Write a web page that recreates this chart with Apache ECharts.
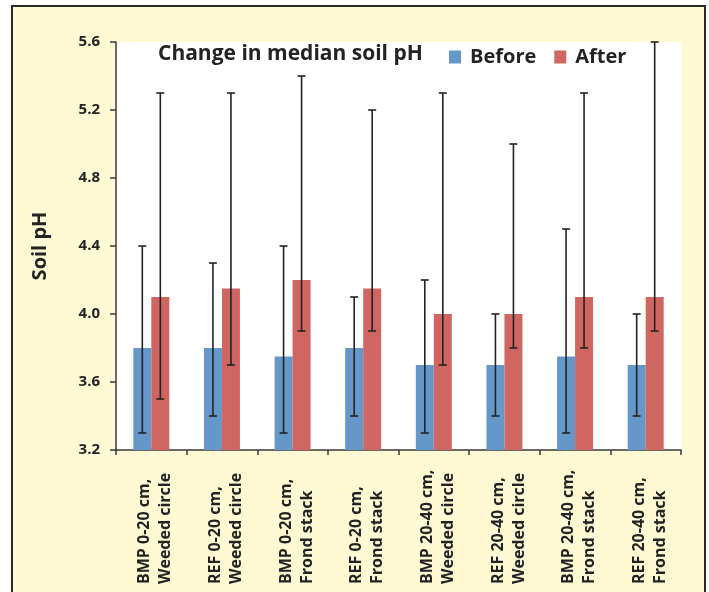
<!DOCTYPE html>
<html>
<head>
<meta charset="utf-8">
<title>Change in median soil pH</title>
<script src="https://cdn.jsdelivr.net/npm/echarts@6/dist/echarts.min.js"></script>
<style>
  html, body { margin: 0; padding: 0; background: #ffffff; }
  #chart { width: 709px; height: 592px; }
</style>
</head>
<body>
<div id="chart"></div>
<script>
// Sites / depths / treatments
const categories = [
  'BMP 0-20 cm,\nWeeded circle',
  'REF 0-20 cm,\nWeeded circle',
  'BMP 0-20 cm,\nFrond stack',
  'REF 0-20 cm,\nFrond stack',
  'BMP 20-40 cm,\nWeeded circle',
  'REF 20-40 cm,\nWeeded circle',
  'BMP 20-40 cm,\nFrond stack',
  'REF 20-40 cm,\nFrond stack'
];

// Median soil pH
const beforeMedian = [3.8, 3.8, 3.75, 3.8, 3.7, 3.7, 3.75, 3.7];
const afterMedian  = [4.1, 4.15, 4.2, 4.15, 4.0, 4.0, 4.1, 4.1];

// Range (min / max) of each group
const beforeLow  = [3.3, 3.4, 3.3, 3.4, 3.3, 3.4, 3.3, 3.4];
const beforeHigh = [4.4, 4.3, 4.4, 4.1, 4.2, 4.0, 4.5, 4.0];
const afterLow   = [3.5, 3.7, 3.9, 3.9, 3.7, 3.8, 3.8, 3.9];
const afterHigh  = [5.3, 5.3, 5.4, 5.2, 5.3, 5.0, 5.3, 5.6];

// Y axis ticks
const yTicks = [3.2, 3.6, 4.0, 4.4, 4.8, 5.2, 5.6];

const FONT = '"Open Sans", Lato, sans-serif';
const INK = '#232323';
const BAR_W = 18;

function rangeData(lows, highs) {
  return lows.map((lo, i) => [i, lo, highs[i]]);
}

// Whisker with caps, shifted to sit on the middle of its bar
function whisker(shift) {
  return function (params, api) {
    const lo = api.coord([api.value(0), api.value(1)]);
    const hi = api.coord([api.value(0), api.value(2)]);
    const x = lo[0] + shift;
    const cap = 4;
    const style = { stroke: INK, lineWidth: 1.6 };
    return {
      type: 'group',
      children: [
        { type: 'line', shape: { x1: x, y1: hi[1], x2: x, y2: lo[1] }, style },
        { type: 'line', shape: { x1: x - cap, y1: hi[1], x2: x + cap, y2: hi[1] }, style },
        { type: 'line', shape: { x1: x - cap, y1: lo[1], x2: x + cap, y2: lo[1] }, style }
      ]
    };
  };
}

// Category label: a thin spacer line first nudges the two text lines to the right
function categoryLabel(value) {
  return '{s| }\n' + value.split('\n').map(l => '{a|' + l + '}').join('\n');
}

const chart = echarts.init(document.getElementById('chart'), null, { renderer: 'canvas' });

chart.setOption({
  backgroundColor: '#ffffff',
  animation: false,
  graphic: [{
    type: 'rect',
    z: -10,
    shape: { x: 12, y: 6, width: 693, height: 600 },
    style: { fill: '#fffad4', stroke: '#2a2a2a', lineWidth: 2 }
  }],
  title: {
    text: 'Change in median soil pH',
    left: 153,
    top: 39,
    textStyle: { fontFamily: FONT, fontSize: 21, fontWeight: 'bold', color: INK }
  },
  legend: {
    data: ['Before', 'After'],
    left: 444,
    top: 42,
    itemWidth: 12,
    itemHeight: 13,
    itemGap: 18,
    icon: 'rect',
    textStyle: { fontFamily: FONT, fontSize: 20, fontWeight: 'bold', color: INK, padding: [0, 0, 0, 4] }
  },
  grid: {
    left: 116, right: 28, top: 42, bottom: 142,
    show: true, backgroundColor: '#ffffff', borderWidth: 0
  },
  xAxis: {
    type: 'category',
    data: categories,
    axisLine: { lineStyle: { color: '#3a3a3a', width: 1.5 } },
    axisTick: { show: true, length: 5, lineStyle: { color: '#3a3a3a', width: 1.5 } },
    axisLabel: {
      rotate: 90,
      align: 'left',
      margin: 134,
      interval: 0,
      formatter: categoryLabel,
      rich: {
        s: { fontSize: 2, lineHeight: 8 },
        a: { fontFamily: FONT, fontSize: 16, fontWeight: 'bold', lineHeight: 21, color: INK }
      }
    }
  },
  yAxis: {
    type: 'value',
    min: yTicks[0],
    max: yTicks[yTicks.length - 1],
    interval: 0.4,
    name: 'Soil pH',
    nameLocation: 'middle',
    nameGap: 66,
    nameTextStyle: { fontFamily: FONT, fontSize: 20, fontWeight: 'bold', color: INK },
    splitLine: { show: false },
    axisLine: { show: true, lineStyle: { color: '#3a3a3a', width: 1.5 } },
    axisTick: { show: true, length: 6, lineStyle: { color: '#3a3a3a', width: 1.5 } },
    axisLabel: {
      margin: 16,
      fontFamily: FONT,
      fontSize: 15,
      fontWeight: 'bold',
      color: INK,
      formatter: v => v.toFixed(1)
    }
  },
  series: [
    {
      name: 'Before',
      type: 'bar',
      data: beforeMedian,
      barWidth: BAR_W,
      barGap: '0%',
      itemStyle: { color: '#6598c9' }
    },
    {
      name: 'After',
      type: 'bar',
      data: afterMedian,
      barWidth: BAR_W,
      barGap: '0%',
      itemStyle: { color: '#cf6661' }
    },
    {
      name: 'Before range',
      type: 'custom',
      renderItem: whisker(-BAR_W / 2),
      data: rangeData(beforeLow, beforeHigh),
      encode: { x: 0, y: [1, 2] },
      z: 10,
      silent: true
    },
    {
      name: 'After range',
      type: 'custom',
      renderItem: whisker(BAR_W / 2),
      data: rangeData(afterLow, afterHigh),
      encode: { x: 0, y: [1, 2] },
      z: 10,
      silent: true
    }
  ]
});
</script>
</body>
</html>
